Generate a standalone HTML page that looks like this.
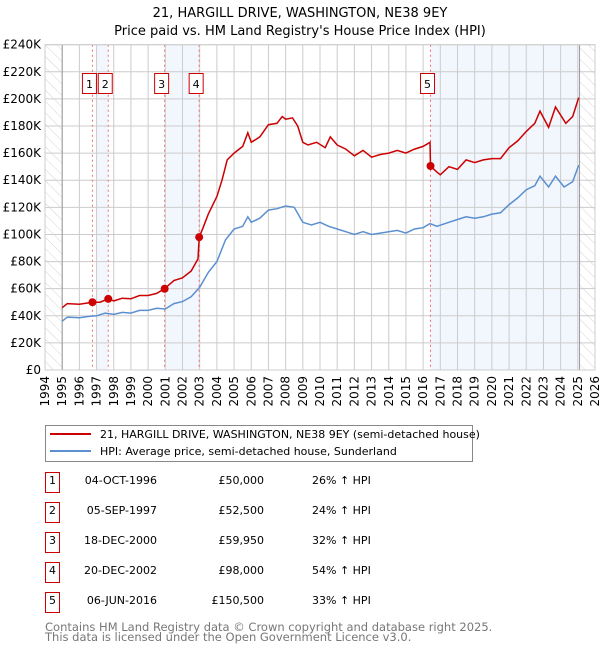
<!DOCTYPE html>
<html><head><meta charset="utf-8"><style>
body{margin:0;background:#fff;}
svg text{font-family:"DejaVu Sans","Liberation Sans",sans-serif;}
</style></head><body>
<svg id="chart" width="600" height="650" viewBox="0 0 600 650" xmlns="http://www.w3.org/2000/svg">
<defs>
<pattern id="hatch" patternUnits="userSpaceOnUse" width="8" height="8" patternTransform="rotate(-45)">
<line x1="0" y1="0" x2="0" y2="8" stroke="#d4d4d4" stroke-width="1"/>
</pattern>
</defs>
<text x="300" y="17" text-anchor="middle" font-size="13">21, HARGILL DRIVE, WASHINGTON, NE38 9EY</text>
<text x="300" y="35" text-anchor="middle" font-size="13">Price paid vs. HM Land Registry's House Price Index (HPI)</text>
<g id="plot"></g>
<g>
<rect x="45.5" y="425.5" width="427" height="36" fill="#fff" stroke="#888"/>
<line x1="50" y1="434" x2="91" y2="434" stroke="#cc0000" stroke-width="2"/>
<text x="100" y="438" font-size="11">21, HARGILL DRIVE, WASHINGTON, NE38 9EY (semi-detached house)</text>
<line x1="50" y1="451" x2="91" y2="451" stroke="#5b8fd0" stroke-width="2"/>
<text x="100" y="455" font-size="11">HPI: Average price, semi-detached house, Sunderland</text>
</g>
<g id="table"></g>
<text x="45" y="631" font-size="11.5" fill="#777">Contains HM Land Registry data © Crown copyright and database right 2025.</text>
<text x="45" y="641" font-size="11.5" fill="#777">This data is licensed under the Open Government Licence v3.0.</text>
</svg>
<script>
const hpiYears=[1995,1995.3,1996,1996.5,1997,1997.5,1998,1998.5,1999,1999.5,2000,2000.5,2001,2001.5,2002,2002.5,2003,2003.5,2004,2004.5,2005,2005.5,2005.8,2006,2006.5,2007,2007.5,2008,2008.5,2009,2009.5,2010,2010.5,2011,2011.5,2012,2012.5,2013,2013.5,2014,2014.5,2015,2015.5,2016,2016.4,2016.8,2017.5,2018,2018.5,2019,2019.5,2020,2020.5,2021,2021.5,2022,2022.5,2022.8,2023.3,2023.7,2024.2,2024.7,2025.05];
const hpiValues=[36,39,38.5,39.5,40,42,41,42.5,42,44,44,45.5,45,49,50.5,54,61,72,80,96,104,106,113,109,112,118,119,121,120,109,107,109,106,104,102,100,102,100,101,102,103,101,104,105,108,106,109,111,113,112,113,115,116,122,127,133,136,143,135,143,135,139,151];
const priceYears=[1995,1995.3,1996,1996.76,1997.2,1997.68,1998,1998.5,1999,1999.5,2000,2000.5,2000.96,2001.5,2002,2002.5,2002.9,2002.97,2003.2,2003.5,2004,2004.3,2004.6,2005,2005.5,2005.8,2006,2006.5,2007,2007.5,2007.8,2008,2008.4,2008.7,2009,2009.3,2009.8,2010.3,2010.6,2011,2011.5,2012,2012.5,2013,2013.5,2014,2014.5,2015,2015.5,2016,2016.4,2016.43,2016.8,2017,2017.5,2018,2018.5,2019,2019.5,2020,2020.5,2021,2021.5,2022,2022.5,2022.8,2023.3,2023.7,2024.3,2024.7,2025.05];
const priceValues=[46,49,48.5,50,50,52.5,51,53,52.5,55,55,56.5,60,66,68,73,82,98,105,115,128,140,155,160,165,175,168,172,181,182,187,185,186,180,168,166,168,164,172,166,163,158,162,157,159,160,162,160,163,165,168,150.5,146,144,150,148,155,153,155,156,156,164,169,176,182,191,179,194,182,187,201];
const saleYears=[1996.76,1997.68,2000.96,2002.97,2016.43];
const saleValues=[50,52.5,59.95,98,150.5];
const saleLabels=["1","2","3","4","5"];
const saleDates=["04-OCT-1996","05-SEP-1997","18-DEC-2000","20-DEC-2002","06-JUN-2016"];
const salePrices=["£50,000","£52,500","£59,950","£98,000","£150,500"];
const saleHpi=["26% ↑ HPI","24% ↑ HPI","32% ↑ HPI","54% ↑ HPI","33% ↑ HPI"];
const yTicks=[0,20,40,60,80,100,120,140,160,180,200,220,240];
const xTicks=[1994,1995,1996,1997,1998,1999,2000,2001,2002,2003,2004,2005,2006,2007,2008,2009,2010,2011,2012,2013,2014,2015,2016,2017,2018,2019,2020,2021,2022,2023,2024,2025,2026];

const L=45,R=595,T=44.7,B=370;
const xs=y=>L+(y-1994)/(2026-1994)*(R-L);
const ys=v=>B-v/240*(B-T);
const NS="http://www.w3.org/2000/svg";
const plot=document.getElementById('plot');
function mk(tag,attrs,parent){const e=document.createElementNS(NS,tag);for(const k in attrs)e.setAttribute(k,attrs[k]);(parent||plot).appendChild(e);return e;}

let e;
e=mk('rect',{x:L,y:T,width:R-L,height:B-T,fill:'#fff'});


const shades=[[1997.0,saleYears[1]],[saleYears[2],saleYears[3]],[saleYears[4],2025.1]];
shades.forEach(s=>{e=mk('rect',{x:xs(s[0]),y:T,width:xs(s[1])-xs(s[0]),height:B-T,fill:'#f2f6fd'});

});
e=mk('rect',{x:L,y:T,width:xs(1995)-L,height:B-T,fill:'url(#hatch)'});


e=mk('rect',{x:xs(2025.1),y:T,width:R-xs(2025.1),height:B-T,fill:'url(#hatch)'});


yTicks.forEach(v=>{e=mk('line',{x1:L,x2:R,y1:ys(v),y2:ys(v),stroke:'#ccc','stroke-width':1});


e=mk('text',{x:L-4,y:ys(v)+4,'text-anchor':'end','font-size':12});
e.textContent=v===0?'£0':'£'+v+'K';

});
xTicks.forEach(y=>{e=mk('line',{x1:xs(y),x2:xs(y),y1:T,y2:B,stroke:'#ccc','stroke-width':1});


e=mk('text',{x:0,y:0,'font-size':12,'text-anchor':'end',transform:`translate(${xs(y)+4},${B+6}) rotate(-90)`});
e.textContent=y;

});
e=mk('line',{x1:xs(1995),x2:xs(1995),y1:T,y2:B,stroke:'#999'});


e=mk('line',{x1:xs(2025.1),x2:xs(2025.1),y1:T,y2:B,stroke:'#999'});


saleYears.forEach((y,i)=>{e=mk('line',{x1:xs(y),x2:xs(y),y1:T,y2:B,stroke:'#f07070','stroke-dasharray':'2,3'});


const cx=xs(y)-3;
e=mk('rect',{x:cx-7,y:73.5,width:14,height:20,fill:'#fff',stroke:'#cc0000'});


e=mk('text',{x:cx,y:88,'text-anchor':'middle','font-size':11});
e.textContent=saleLabels[i];

});
function path(xa,va){return xa.map((x,i)=>(i?'L':'M')+xs(x).toFixed(1)+','+ys(va[i]).toFixed(1)).join('');}
e=mk('path',{d:path(hpiYears,hpiValues),fill:'none',stroke:'#5b8fd0','stroke-width':1.5});


e=mk('path',{d:path(priceYears,priceValues),fill:'none',stroke:'#cc0000','stroke-width':1.5});


saleYears.forEach((y,i)=>{e=mk('circle',{cx:xs(y),cy:ys(saleValues[i]),r:4,fill:'#cc0000'});

});
e=mk('rect',{x:L,y:T,width:R-L,height:B-T,fill:'none',stroke:'#ccc'});


const tb=document.getElementById('table');
saleLabels.forEach((s,i)=>{const cy=483+i*30;
e=mk('rect',{x:45.5,y:cy-10.5,width:14,height:20,fill:'#fff',stroke:'#cc0000'},tb);


e=mk('text',{x:52.5,y:cy+1,'text-anchor':'middle','font-size':11},tb);e.textContent=s;


e=mk('text',{x:157,y:cy+1,'text-anchor':'end','font-size':11},tb);e.textContent=saleDates[i];


e=mk('text',{x:264,y:cy+1,'text-anchor':'end','font-size':11},tb);e.textContent=salePrices[i];


e=mk('text',{x:312,y:cy+1,'font-size':11},tb);e.textContent=saleHpi[i];

});
</script>
</body></html>
